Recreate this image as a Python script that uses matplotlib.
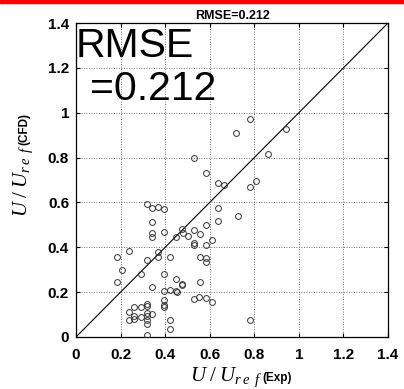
import matplotlib
matplotlib.use("Agg")
import matplotlib.pyplot as plt
import numpy as np

plt.rcParams['font.family'] = ['Liberation Sans', 'DejaVu Sans']
plt.rcParams['mathtext.fontset'] = 'custom'
plt.rcParams['mathtext.it'] = 'Liberation Serif:italic'
plt.rcParams['mathtext.rm'] = 'Liberation Serif'
plt.rcParams['mathtext.bf'] = 'Liberation Sans:bold'

title = "RMSE=0.212"
ticks = [0, 0.2, 0.4, 0.6, 0.8, 1.0, 1.2, 1.4]
tick_labels = ["0", "0.2", "0.4", "0.6", "0.8", "1", "1.2", "1.4"]

exp_vals = [0.781, 0.717, 0.942, 0.863, 0.531, 0.582, 0.636, 0.663, 0.781, 0.808,
            0.636, 0.636, 0.728, 0.582, 0.556, 0.609, 0.582, 0.556, 0.582, 0.582,
            0.556, 0.317, 0.342, 0.369, 0.396, 0.342, 0.342, 0.342, 0.396, 0.449,
            0.474, 0.479, 0.504, 0.529, 0.531, 0.531, 0.238, 0.183, 0.317, 0.369,
            0.369, 0.422, 0.208, 0.183, 0.290, 0.396, 0.342, 0.449, 0.474, 0.477,
            0.396, 0.422, 0.449, 0.452, 0.529, 0.553, 0.582, 0.609, 0.781, 0.396,
            0.396, 0.396, 0.262, 0.290, 0.317, 0.317, 0.317, 0.317, 0.342, 0.238,
            0.238, 0.262, 0.262, 0.290, 0.317, 0.317, 0.317, 0.422, 0.422]
cfd_vals = [0.970, 0.908, 0.926, 0.816, 0.799, 0.733, 0.685, 0.678, 0.670, 0.697,
            0.574, 0.518, 0.539, 0.500, 0.458, 0.432, 0.412, 0.358, 0.354, 0.333,
            0.245, 0.593, 0.576, 0.581, 0.569, 0.514, 0.465, 0.444, 0.467, 0.444,
            0.480, 0.463, 0.450, 0.477, 0.420, 0.408, 0.383, 0.358, 0.342, 0.378,
            0.358, 0.355, 0.299, 0.247, 0.280, 0.280, 0.221, 0.259, 0.237, 0.233,
            0.206, 0.210, 0.206, 0.199, 0.169, 0.178, 0.176, 0.157, 0.077, 0.167,
            0.143, 0.135, 0.135, 0.132, 0.147, 0.138, 0.109, 0.094, 0.104, 0.113,
            0.076, 0.094, 0.079, 0.088, 0.076, 0.056, 0.011, 0.078, 0.035]

W, H = 404, 389
fig = plt.figure(figsize=(W / 100, H / 100), dpi=100)
ax = fig.add_axes([76 / W, 1 - 337 / H, 312 / W, 314 / H])

ax.plot([0, 1.4], [0, 1.4], color='black', lw=0.8, zorder=2)
ax.plot(exp_vals, cfd_vals, linestyle='none', marker='o', ms=4.2,
        mfc='none', mec='#333333', mew=0.7, zorder=3)

ax.set_xlim(0, 1.4)
ax.set_ylim(0, 1.4)
ax.set_xticks(ticks)
ax.set_yticks(ticks)
ax.set_xticklabels(tick_labels, fontsize=11, fontweight='bold')
ax.set_yticklabels(tick_labels, fontsize=11, fontweight='bold')
ax.tick_params(direction='in', length=3, width=0.8, top=True, right=True)
ax.tick_params(axis='x', pad=8)
ax.tick_params(axis='y', pad=5)
ax.grid(True, color='#444444', linestyle=(0, (1, 2)), linewidth=0.6)
for s in ax.spines.values():
    s.set_linewidth(0.9)

ax.set_title(title, fontsize=9, fontweight='bold', pad=3)

ax.text(0.0, 0.892, "RMSE", transform=ax.transAxes, fontsize=29.5,
        ha='left', va='baseline')
ax.text(0.045, 0.755, "=0.212", transform=ax.transAxes, fontsize=29.5,
        ha='left', va='baseline')

xl = r'$U\;/\;U_{r\;e\;\,f}$'
# x label
fig.text(262 / W, 1 - 381 / H, xl, fontsize=15, ha='right', va='baseline')
fig.text(262 / W, 1 - 381 / H, '(Exp)', fontsize=8.5, fontweight='bold', ha='left', va='baseline')
# y label
fig.text(27 / W, 1 - 145 / H, xl, fontsize=15, ha='right', va='baseline',
         rotation=90, rotation_mode='anchor')
fig.text(27 / W, 1 - 145 / H, '(CFD)', fontsize=8.5, fontweight='bold', ha='left', va='baseline',
         rotation=90, rotation_mode='anchor')

# red bar at top
fig.patches.append(plt.Rectangle((0, 1 - 3 / H), 1, 3 / H, transform=fig.transFigure,
                                 color='#ff0000', zorder=10))

fig.savefig('out.png', dpi=100)
